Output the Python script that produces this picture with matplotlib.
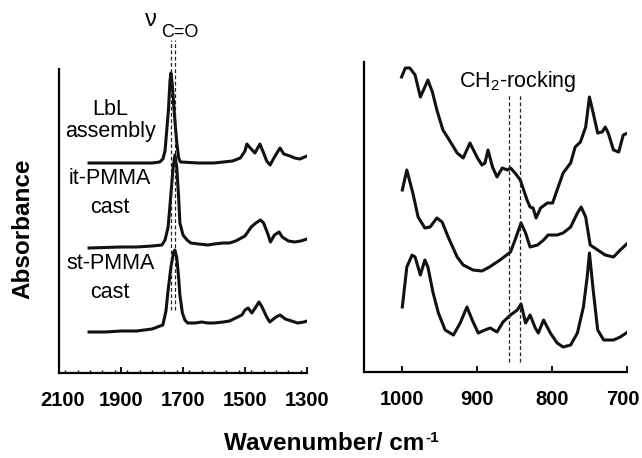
import matplotlib
matplotlib.use('Agg')
import matplotlib.pyplot as plt
from matplotlib.ticker import MultipleLocator, FixedLocator
from matplotlib.transforms import ScaledTranslation

plt.rcParams['font.family'] = ['Liberation Sans', 'DejaVu Sans']
plt.rcParams['mathtext.default'] = 'regular'

# carbonyl region, wavenumber (cm-1) and stacked absorbance (a.u.)
lbl_wn = [2003, 1900, 1800, 1775, 1765, 1758, 1747, 1742, 1739, 1735, 1731, 1725, 1720, 1714, 1708,
          1650, 1600, 1540, 1515, 1500, 1494, 1480, 1468, 1452, 1440, 1430, 1419, 1405, 1387, 1375,
          1355, 1340, 1323, 1300]
lbl_abs = [2.10, 2.10, 2.10, 2.11, 2.14, 2.22, 2.63, 2.92, 3.00, 2.90, 2.73, 2.48, 2.30, 2.15, 2.11,
           2.10, 2.10, 2.12, 2.15, 2.22, 2.29, 2.24, 2.20, 2.29, 2.20, 2.12, 2.08, 2.16, 2.25, 2.19,
           2.17, 2.15, 2.14, 2.17]

it_wn = [2003, 1900, 1850, 1800, 1768, 1758, 1748, 1740, 1732, 1726, 1720, 1714, 1710, 1700, 1687,
         1675, 1650, 1620, 1600, 1570, 1550, 1530, 1500, 1480, 1465, 1450, 1440, 1425, 1418, 1405,
         1390, 1380, 1360, 1340, 1320, 1300]
it_abs = [1.25, 1.26, 1.26, 1.27, 1.28, 1.33, 1.46, 1.75, 2.05, 2.18, 2.05, 1.75, 1.50, 1.38, 1.33,
          1.30, 1.29, 1.28, 1.29, 1.30, 1.30, 1.32, 1.37, 1.46, 1.50, 1.53, 1.50, 1.38, 1.31, 1.38,
          1.41, 1.36, 1.32, 1.31, 1.32, 1.34]

st_wn = [2003, 1950, 1900, 1850, 1800, 1765, 1755, 1748, 1738, 1730, 1726, 1720, 1714, 1710, 1702,
         1694, 1685, 1660, 1640, 1620, 1600, 1570, 1550, 1530, 1510, 1500, 1490, 1478, 1465, 1455,
         1445, 1430, 1420, 1400, 1387, 1370, 1350, 1330, 1310, 1300]
st_abs = [0.41, 0.41, 0.42, 0.42, 0.44, 0.48, 0.62, 0.83, 1.08, 1.21, 1.23, 1.15, 0.95, 0.78, 0.60,
          0.53, 0.50, 0.50, 0.51, 0.50, 0.50, 0.51, 0.52, 0.55, 0.58, 0.63, 0.65, 0.60, 0.66, 0.71,
          0.66, 0.56, 0.51, 0.56, 0.58, 0.54, 0.52, 0.50, 0.51, 0.52]

# CH2-rocking region
lbl2_wn = [1000, 995, 989, 982, 975, 969, 965, 959, 953, 945, 939, 926, 918, 909, 899, 893, 889, 885,
           879, 873, 866, 859, 855, 849, 842, 833, 829, 825, 821, 815, 806, 799, 793, 785, 775, 769,
           762, 755, 750, 745, 739, 733, 729, 725, 718, 711, 705, 699]
lbl2_abs = [2.95, 3.04, 3.04, 2.97, 2.75, 2.85, 2.92, 2.80, 2.62, 2.42, 2.35, 2.19, 2.14, 2.29, 2.14,
            2.07, 2.09, 2.22, 2.05, 1.95, 2.04, 2.02, 2.04, 1.99, 1.92, 1.72, 1.65, 1.64, 1.54, 1.64,
            1.69, 1.69, 1.82, 1.99, 2.09, 2.25, 2.30, 2.45, 2.75, 2.59, 2.39, 2.40, 2.45, 2.39, 2.22,
            2.20, 2.37, 2.39]

it2_wn = [999, 993, 985, 978, 969, 962, 953, 946, 938, 926, 918, 905, 893, 883, 869, 855, 849, 841,
          835, 829, 819, 811, 805, 793, 785, 775, 766, 761, 755, 749, 739, 729, 718, 709, 699]
it2_abs = [1.82, 2.02, 1.79, 1.55, 1.44, 1.45, 1.54, 1.50, 1.35, 1.15, 1.07, 1.02, 1.01, 1.05, 1.12,
           1.20, 1.32, 1.49, 1.39, 1.25, 1.27, 1.32, 1.37, 1.37, 1.39, 1.45, 1.59, 1.65, 1.55, 1.27,
           1.22, 1.17, 1.15, 1.22, 1.29]

st2_wn = [999, 993, 986, 982, 975, 969, 965, 958, 951, 942, 931, 922, 913, 906, 898, 889, 882, 873,
          865, 855, 846, 841, 835, 829, 822, 818, 811, 802, 793, 785, 775, 766, 758, 753, 750, 745,
          739, 731, 718, 709, 699]
st2_abs = [0.65, 1.05, 1.17, 1.15, 0.97, 1.12, 1.05, 0.79, 0.59, 0.42, 0.37, 0.49, 0.65, 0.52, 0.39,
           0.42, 0.44, 0.40, 0.50, 0.57, 0.62, 0.68, 0.49, 0.57, 0.44, 0.39, 0.52, 0.39, 0.29, 0.25,
           0.27, 0.39, 0.65, 0.95, 1.19, 0.82, 0.42, 0.32, 0.32, 0.35, 0.40]

co_marks = [1739, 1726]
ch2_marks = [857, 842]

fig = plt.figure(figsize=(6.42, 4.58), dpi=100)
ax1 = fig.add_axes([59 / 642, 85 / 458, 248 / 642, 304 / 458])
ax2 = fig.add_axes([364 / 642, 86 / 458, 263 / 642, 310 / 458])

lw = 2.2
for wn, ab in [(lbl_wn, lbl_abs), (it_wn, it_abs), (st_wn, st_abs)]:
    ax1.plot(wn, ab, color='#111111', lw=lw, solid_joinstyle='round')
for wn, ab in [(lbl2_wn, lbl2_abs), (it2_wn, it2_abs), (st2_wn, st2_abs)]:
    ax2.plot(wn, ab, color='#111111', lw=lw, solid_joinstyle='round')

for m in co_marks:
    ax1.plot([m, m], [0.63, 3.33], color='#222222', lw=0.9, dashes=(3, 2), clip_on=False)
for m in ch2_marks:
    ax2.plot([m, m], [0.10, 2.77], color='#222222', lw=0.9, dashes=(3, 2), clip_on=False)

ax1.set_xlim(2100, 1300)
ax1.set_ylim(0, 3.04)
ax2.set_xlim(1050, 700)
ax2.set_ylim(0, 3.10)

for ax in (ax1, ax2):
    ax.spines['top'].set_visible(False)
    ax.spines['right'].set_visible(False)
    ax.spines['left'].set_linewidth(1.6)
    ax.spines['bottom'].set_linewidth(1.6)
    ax.set_yticks([])
    ax.tick_params(axis='x', which='major', direction='in', length=4, width=1.3, pad=13,
                   labelsize=14.5)
    ax.tick_params(axis='x', which='minor', direction='in', length=2.5, width=1.0)
    ax.patch.set_alpha(0)

ax1.xaxis.set_major_locator(FixedLocator([2100, 1900, 1700, 1500, 1300]))
ax1.xaxis.set_minor_locator(MultipleLocator(40))
ax2.xaxis.set_major_locator(FixedLocator([1000, 900, 800, 700]))
for ax in (ax1, ax2):
    for lab in ax.get_xticklabels():
        lab.set_fontweight('bold')

# nudge the outermost labels a little, as in the original
first = ax1.get_xticklabels()[0]
first.set_transform(first.get_transform() + ScaledTranslation(4 / 100, 0, fig.dpi_scale_trans))
last = ax2.get_xticklabels()[-1]
last.set_transform(last.get_transform() + ScaledTranslation(-4 / 100, 0, fig.dpi_scale_trans))

fs = 15.5
ax1.text(1935, 2.36, 'LbL\nassembly', fontsize=fs, ha='center', va='baseline',
         multialignment='center', linespacing=1.08)
ax1.text(1935, 1.60, 'it-PMMA\ncast', fontsize=fs, ha='center', va='baseline',
         multialignment='center', linespacing=1.5)
ax1.text(1935, 0.75, 'st-PMMA\ncast', fontsize=fs, ha='center', va='baseline',
         multialignment='center', linespacing=1.5)
ax1.text(1823, 3.47, 'ν', fontsize=17, ha='left', va='baseline', clip_on=False)
ax1.text(1771, 3.36, 'C=O', fontsize=13, ha='left', va='baseline', clip_on=False)
ax2.text(846, 2.85, 'CH$_2$-rocking', fontsize=fs, ha='center', va='baseline')

fig.text(23 / 642, 1 - 229 / 458, 'Absorbance', rotation=90, fontsize=17.5, fontweight='bold',
         ha='center', va='center')
xl = fig.text(324 / 642, 1 - 450 / 458, 'Wavenumber/ cm', fontsize=17.5, fontweight='bold',
              ha='center', va='baseline')
fig.canvas.draw()
bb = xl.get_window_extent()
fig.text((bb.x1 + 1) / 642, 1 - 442 / 458, '-1', fontsize=11, fontweight='bold',
         ha='left', va='baseline')

fig.savefig('out.png', dpi=100)
